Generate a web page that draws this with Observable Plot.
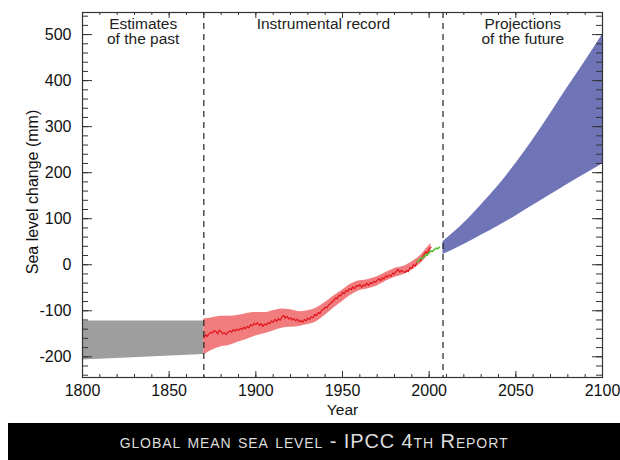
<!DOCTYPE html>
<html><head><meta charset="utf-8">
<script src="https://cdn.jsdelivr.net/npm/d3@7"></script>
<script src="https://cdn.jsdelivr.net/npm/@observablehq/plot@0.6"></script>
<style>
body{margin:0;background:#fff;font-family:"Liberation Sans",Arial,sans-serif;}
#wrap{width:620px;height:460px;position:relative;overflow:hidden;}
#cap{position:absolute;left:8px;top:423px;width:612px;height:37px;background:#000;color:#ddd;
 font-family:"Liberation Sans",Arial,sans-serif;font-variant:small-caps;font-size:20px;
 text-align:center;line-height:37px;letter-spacing:0.9px;}
</style></head>
<body><div id="wrap"><div id="chart"></div><div id="cap">global mean sea level - IPCC 4th Report</div></div>
<script>
// Region boundaries and labels
const regionBounds = [1800, 1870, 2008, 2100];
const regionLabels = ["Estimates\nof the past", "Instrumental record", "Projections\nof the future"];

// Estimates of the past (grey band)
const pastYears = [1800, 1835, 1870];
const pastHi = [-122, -122, -122];
const pastLo = [-207, -201, -195];

// Instrumental record band (red shading)
const bandYears = [1870,1875,1880,1885,1890,1895,1900,1905,1910,1915,1920,1925,1930,1935,1940,1945,1950,1955,1960,1965,1970,1975,1980,1985,1990,1995,2000,2001];
const bandHi = [-118,-115,-112,-112,-110,-106,-104,-104,-100,-96,-98,-102,-100,-94,-82,-68,-55,-42,-35,-32,-26,-17,-8,-4,6,20,42,46];
const bandLo = [-196,-185,-178,-175,-168,-162,-155,-150,-144,-138,-136,-134,-130,-124,-110,-94,-80,-66,-56,-52,-46,-36,-28,-22,-12,2,22,26];

// Tide-gauge record (red line), 1870-2001
const tideStart = 1870;
const tideValues = [-160,-152,-156,-150,-147,-148,-143,-145,-150,-142,-146,-150,-148,-152,-146,-144,-147,-141,-144,-140,
 -143,-138,-141,-136,-139,-134,-137,-130,-133,-127,-130,-126,-132,-128,-134,-129,-131,-126,-128,-122,
 -125,-119,-123,-117,-121,-114,-110,-116,-112,-118,-115,-120,-117,-122,-118,-124,-121,-125,-119,-122,
 -116,-119,-113,-115,-108,-110,-104,-106,-99,-97,-92,-94,-87,-85,-80,-78,-72,-74,-66,-68,
 -60,-63,-56,-58,-52,-54,-48,-52,-45,-47,-43,-49,-44,-46,-40,-45,-39,-41,-36,-38,
 -34,-30,-35,-28,-31,-24,-27,-22,-25,-18,-20,-14,-10,-16,-12,-15,-17,-13,-15,-6,
 -8,0,-3,6,10,8,16,22,28,25,34,38];

// Satellite altimetry (green line)
const satYears = [1993,1994,1995,1996,1997,1998,1999,2000,2001,2002,2003,2004,2005,2006];
const satValues = [6,9,14,13,18,22,21,26,30,29,33,36,35,38];

// Projections (blue band)
const projYears = [2008,2020,2030,2040,2050,2060,2070,2080,2090,2100];
const projHi = [50,90,130,172,220,272,328,386,442,500];
const projLo = [22,44,64,84,106,129,152,175,197,219];

// Axis ticks
const xMajor = [1800,1850,1900,1950,2000,2050,2100];
const xMinor = d3.range(1800, 2101, 10);
const yMajor = [-200,-100,0,100,200,300,400,500];
const yMinor = d3.range(-240, 541, 20);

const past = pastYears.map((x,i)=>({x, hi:pastHi[i], lo:pastLo[i]}));
const band = bandYears.map((x,i)=>({x, hi:bandHi[i], lo:bandLo[i]}));
const tide = tideValues.map((v,i)=>({x:tideStart+i, y:v}));
const sat = satYears.map((x,i)=>({x, y:satValues[i]}));
const proj = projYears.map((x,i)=>({x, hi:projHi[i], lo:projLo[i]}));
const regions = regionLabels.map((t,i)=>({t, x:(regionBounds[i]+regionBounds[i+1])/2}));

const W = 620, H = 422, mL = 82, mR = 18, mT = 12, mB = 45;
const fw = W - mL - mR, fh = H - mT - mB;
const ax = "#333";

const chart = Plot.plot({
  width: W, height: H, marginLeft: mL, marginRight: mR, marginTop: mT, marginBottom: mB,
  style: {fontFamily: "Liberation Sans, Arial, sans-serif", background: "#fff"},
  x: {domain: [1800, 2100]},
  y: {domain: [-245, 548]},
  marks: [
    Plot.areaY(past, {x:"x", y1:"lo", y2:"hi", fill:"#9e9e9e"}),
    Plot.areaY(band, {x:"x", y1:"lo", y2:"hi", fill:"#f07c7e", curve:"monotone-x"}),
    Plot.areaY(proj, {x:"x", y1:"lo", y2:"hi", fill:"#6f74b7", curve:"monotone-x"}),
    Plot.line(tide, {x:"x", y:"y", stroke:"#e3141c", strokeWidth:1.2}),
    Plot.line(sat, {x:"x", y:"y", stroke:"#55bf3a", strokeWidth:1.6}),
    Plot.ruleX(regionBounds.slice(1,3), {stroke:"#222", strokeWidth:1.2, strokeDasharray:"6,5"}),
    Plot.text(regions, {x:"x", text:"t", frameAnchor:"top", lineAnchor:"top", dy:5, fontSize:15.5, lineHeight:1.0, fill:"#222"}),
    // inward ticks on all four sides
    Plot.tickX(xMinor, {x:d=>d, insetTop: fh-3, stroke:ax}),
    Plot.tickX(xMajor, {x:d=>d, insetTop: fh-6, stroke:ax}),
    Plot.tickX(xMinor, {x:d=>d, insetBottom: fh-3, stroke:ax}),
    Plot.tickX(xMajor, {x:d=>d, insetBottom: fh-6, stroke:ax}),
    Plot.tickY(yMinor, {y:d=>d, insetRight: fw-6, stroke:ax}),
    Plot.tickY(yMajor, {y:d=>d, insetRight: fw-10, stroke:ax}),
    Plot.tickY(yMinor, {y:d=>d, insetLeft: fw-6, stroke:ax}),
    Plot.tickY(yMajor, {y:d=>d, insetLeft: fw-10, stroke:ax}),
    Plot.frame({stroke: ax, strokeWidth: 1.2}),
    Plot.axisX(xMajor, {tickSize:0, tickPadding:7, fontSize:16, label:null, tickFormat:d=>String(d), fill:"#111"}),
    Plot.axisY(yMajor, {tickSize:0, tickPadding:11, fontSize:16, label:null, tickFormat:d=>String(d), fill:"#111"}),
    Plot.text(["Year"], {frameAnchor:"bottom", dy:37, fontSize:15.5, fill:"#111"}),
    Plot.text(["Sea level change (mm)"], {frameAnchor:"left", textAnchor:"middle", dx:-50, dy:-3, rotate:-90, fontSize:16, fill:"#111"})
  ]
});
document.getElementById("chart").appendChild(chart);
</script>
</body></html>
